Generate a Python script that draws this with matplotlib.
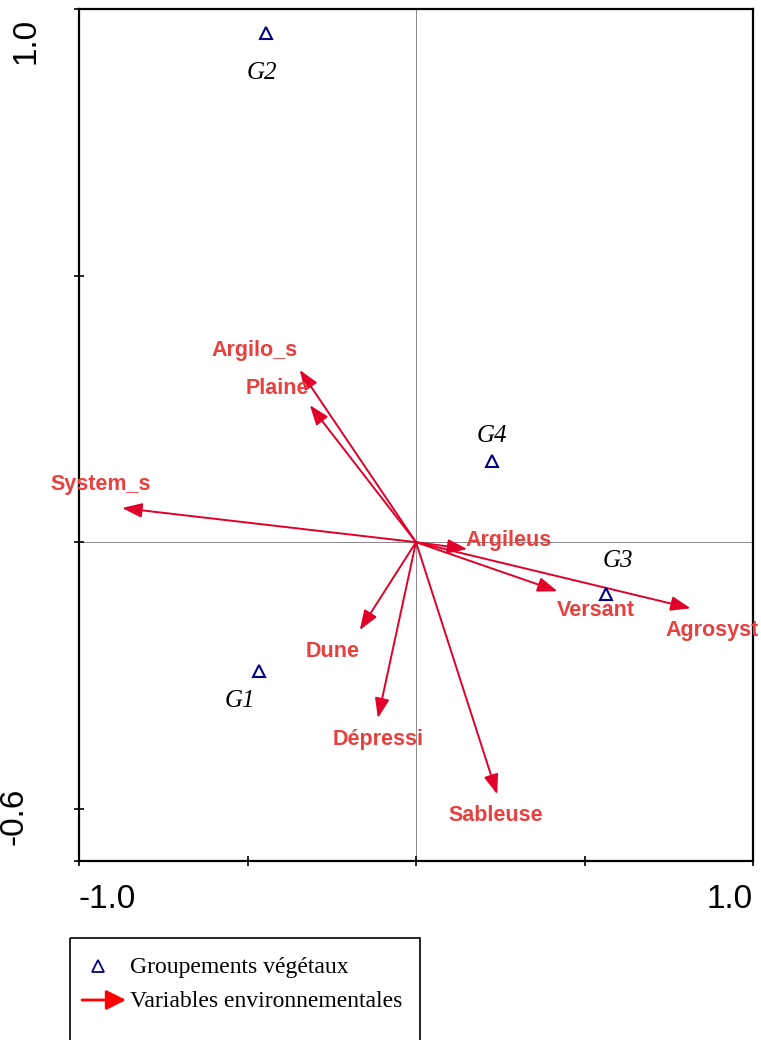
import matplotlib
matplotlib.use("Agg")
import matplotlib.pyplot as plt
from matplotlib.patches import Rectangle

# groupements vegetaux (scores sur les axes 1 et 2)
groupes = ["G1", "G2", "G3", "G4"]
grp_x = [-0.467, -0.446, 0.565, 0.226]
grp_y = [-0.242, 0.955, -0.098, 0.152]

# variables environnementales (extremites des fleches)
variables = ["Argilo_s", "Plaine", "System_s", "Argileus", "Versant",
             "Agrosyst", "Dune", "Dépressi", "Sableuse"]
var_x = [-0.345, -0.315, -0.872, 0.152, 0.420, 0.815, -0.167, -0.113, 0.241]
var_y = [0.323, 0.257, 0.064, -0.013, -0.092, -0.124, -0.165, -0.330, -0.473]

# placement des etiquettes (mise en page)
var_lab = [(-0.479, 0.360), (-0.411, 0.289), (-0.935, 0.109), (0.274, 0.004),
           (0.533, -0.128), (0.880, -0.165), (-0.247, -0.205), (-0.113, -0.371),
           (0.238, -0.512)]
grp_lab = [(-0.524, -0.298), (-0.458, 0.880), (0.598, -0.036), (0.226, 0.199)]

rouge_fleche = "#e0002a"
rouge_texte = "#e8403f"
bleu = "#000080"
sans = ["Liberation Sans", "DejaVu Sans"]
serif = ["Liberation Serif", "DejaVu Serif"]

fig = plt.figure(figsize=(7.61, 10.40), dpi=100)
ax = fig.add_axes([79 / 761, 179 / 1040, 674 / 761, 852 / 1040])
ax.set_xlim(-1.0, 1.0)
ax.set_ylim(-0.598, 1.0)

ax.axhline(0, color="#888888", lw=0.7, zorder=1)
ax.axvline(0, color="#888888", lw=0.7, zorder=1)

for i, nom in enumerate(variables):
    ax.annotate("", xy=(var_x[i], var_y[i]), xytext=(0, 0),
                arrowprops=dict(arrowstyle="-|>,head_length=0.6,head_width=0.22",
                                mutation_scale=20, color=rouge_fleche, lw=1.4,
                                shrinkA=0, shrinkB=0), zorder=3)
    ax.text(var_lab[i][0], var_lab[i][1], nom, color=rouge_texte, fontsize=15.5,
            fontweight="bold", family=sans, ha="center", va="center", zorder=4)

ax.plot(grp_x, grp_y, ls="none", marker="^", ms=8, mfc="none", mec=bleu,
        mew=1.5, zorder=5)
for i, g in enumerate(groupes):
    ax.text(grp_lab[i][0], grp_lab[i][1], g, fontsize=18, style="italic",
            family=serif, ha="center", va="center", zorder=5)

for s in ax.spines.values():
    s.set_linewidth(1.6)
ax.set_xticks([-1.0, -0.5, 0.0, 0.5, 1.0])
ax.set_yticks([-0.598, -0.5, 0.0, 0.5, 1.0])
ax.tick_params(direction="inout", length=7, width=1.2, labelbottom=False,
               labelleft=False)

# etiquettes des axes (valeurs extremes)
ax.text(0.0, -0.045, "-1.0", transform=ax.transAxes, ha="left", va="center",
        fontsize=24, family=sans)
ax.text(1.0, -0.045, "1.0", transform=ax.transAxes, ha="right", va="center",
        fontsize=24, family=sans)
fig.text(26 / 761, 1 - 18 / 1040, "1.0", rotation=90, ha="center", va="top",
         fontsize=24, family=sans)
fig.text(14 / 761, 1 - 845 / 1040, "-0.6", rotation=90, ha="center", va="bottom",
         fontsize=24, family=sans)

# legende
lg = fig.add_axes([0, 0, 1, 110 / 1040])
lg.set_xlim(0, 761)
lg.set_ylim(1040, 930)
lg.axis("off")
lg.add_patch(Rectangle((70, 938), 350, 120, fill=False, ec="black", lw=1.2,
                       clip_on=False))
lg.plot([98], [966], ls="none", marker="^", ms=9, mfc="none", mec=bleu, mew=1.3)
lg.annotate("", xy=(126, 1000), xytext=(82, 1000),
            arrowprops=dict(arrowstyle="-|>,head_length=0.6,head_width=0.3",
                            mutation_scale=20, color="red", lw=2,
                            shrinkA=0, shrinkB=0))
lg.text(130, 967, "Groupements végétaux", fontsize=17, family=serif,
        ha="left", va="center")
lg.text(130, 1001, "Variables environnementales", fontsize=17, family=serif,
        ha="left", va="center")

fig.savefig("out.png", dpi=100)
